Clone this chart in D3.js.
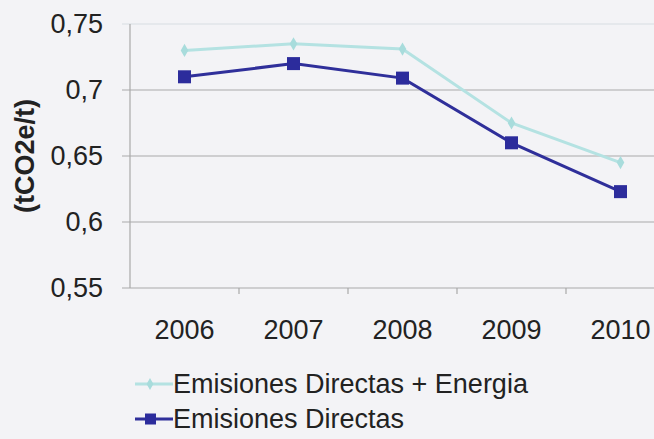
<!DOCTYPE html>
<html lang="en">
<head>
<meta charset="utf-8">
<script src="https://cdn.jsdelivr.net/npm/d3@7"></script>
<style>
	body { margin: 0; background: #f3f3f6; }
	svg { font-family: "Liberation Sans", Arial, sans-serif; }
</style>
</head>
<body>
<svg id="chart" width="654" height="439"></svg>
<script>
	var years = ["2006", "2007", "2008", "2009", "2010"];
	var energia = [0.73, 0.735, 0.731, 0.675, 0.645];
	var directas = [0.71, 0.72, 0.709, 0.66, 0.623];
	var yTicks = [0.55, 0.6, 0.65, 0.7, 0.75];
	var seriesNames = ["Emisiones Directas + Energia", "Emisiones Directas"];

	var svg = d3.select("#chart");
	svg.append("rect").attr("width", 654).attr("height", 439).attr("fill", "#f3f3f6");

	var margin = {top: 24, left: 130};
	var width = 545, height = 264;
	var g = svg.append("g").attr("transform", "translate(" + margin.left + "," + margin.top + ")");

	var x = d3.scaleBand().domain(years).range([0, width]);
	var y = d3.scaleLinear().domain([0.55, 0.75]).range([height, 0]);
	var fmt = function(d) { return d3.format("~g")(d).replace(".", ","); };

	// gridlines
	g.append("g").selectAll("line")
		.data(yTicks).enter().append("line")
		.attr("x1", -8).attr("x2", width)
		.attr("y1", function(d){ return y(d) }).attr("y2", function(d){ return y(d) })
		.attr("stroke", function(d){ return d == 0.75 ? "#d8dde2" : "#a9a9a9" })
		.attr("stroke-width", 1.2);

	// y axis line + labels
	g.append("line").attr("x1", 0).attr("x2", 0).attr("y1", 0).attr("y2", height)
		.attr("stroke", "#a9a9a9").attr("stroke-width", 1.2);
	g.append("g").selectAll("text")
		.data(yTicks).enter().append("text")
		.attr("x", -27).attr("y", function(d){ return y(d) })
		.attr("dy", "0.35em").attr("text-anchor", "end")
		.attr("font-size", 27).attr("fill", "#222")
		.text(fmt);

	// x axis ticks + labels
	g.append("g").selectAll("line")
		.data(years.slice(1)).enter().append("line")
		.attr("x1", function(d){ return x(d) }).attr("x2", function(d){ return x(d) })
		.attr("y1", height).attr("y2", height + 6)
		.attr("stroke", "#a9a9a9").attr("stroke-width", 1.2);
	g.append("g").selectAll("text")
		.data(years).enter().append("text")
		.attr("x", function(d){ return x(d) + x.bandwidth() / 2 })
		.attr("y", height + 51)
		.attr("text-anchor", "middle").attr("font-size", 27).attr("fill", "#222")
		.text(function(d){ return d });

	// y title
	svg.append("text")
		.attr("transform", "translate(25,156) rotate(-90)")
		.attr("dy", "0.35em")
		.attr("text-anchor", "middle").attr("font-size", 27).attr("font-weight", "bold")
		.attr("fill", "#222").text("(tCO2e/t)");

	var line = d3.line()
		.x(function(d, i){ return x(years[i]) + x.bandwidth() / 2 })
		.y(function(d){ return y(d) });

	// light series with diamonds
	g.append("path").datum(energia).attr("d", line)
		.attr("fill", "none").attr("stroke", "#b4e2e2").attr("stroke-width", 3);
	g.append("g").selectAll("path")
		.data(energia).enter().append("path")
		.attr("transform", function(d, i){ return "translate(" + (x(years[i]) + x.bandwidth() / 2) + "," + y(d) + ")" })
		.attr("d", d3.symbol(d3.symbolDiamond, 50))
		.attr("fill", "#a8dcdc");

	// dark series with squares
	g.append("path").datum(directas).attr("d", line)
		.attr("fill", "none").attr("stroke", "#2f2f9a").attr("stroke-width", 3);
	g.append("g").selectAll("rect")
		.data(directas).enter().append("rect")
		.attr("x", function(d, i){ return x(years[i]) + x.bandwidth() / 2 - 6.5 })
		.attr("y", function(d){ return y(d) - 6.5 })
		.attr("width", 13).attr("height", 13)
		.attr("fill", "#2c2c9c");

	// legend
	var legend = svg.append("g").attr("transform", "translate(135,384)");
	var colors = ["#b4e2e2", "#2f2f9a"];
	seriesNames.forEach(function(name, i) {
		var row = legend.append("g").attr("transform", "translate(0," + (i * 35) + ")");
		row.append("line").attr("x1", 0).attr("x2", 38).attr("y1", 0).attr("y2", 0)
			.attr("stroke", colors[i]).attr("stroke-width", 3);
		if (i == 0) {
			row.append("path").attr("transform", "translate(15,0)")
				.attr("d", d3.symbol(d3.symbolDiamond, 40)).attr("fill", "#a8dcdc");
		} else {
			row.append("rect").attr("x", 10).attr("y", -5.5).attr("width", 11).attr("height", 11)
				.attr("fill", "#2c2c9c");
		}
		row.append("text").attr("x", 38).attr("y", 9)
			.attr("font-size", 27).attr("fill", "#222").text(name);
	});
</script>
</body>
</html>
